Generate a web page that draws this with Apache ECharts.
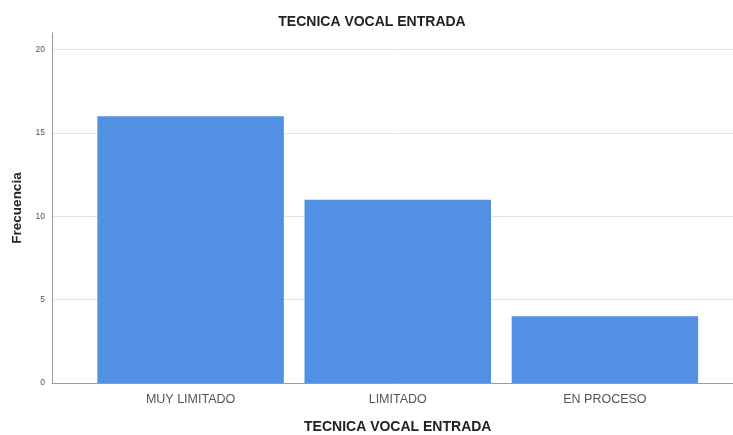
<!DOCTYPE html>
<html>
<head>
<meta charset="utf-8">
<script src="https://cdn.jsdelivr.net/npm/echarts@6/dist/echarts.min.js"></script>
<style>html,body{margin:0;padding:0;background:#fff}#c{width:733px;height:435px}</style>
</head>
<body>
<div id="c"></div>
<script>
var titleText = 'TECNICA VOCAL ENTRADA';
var categories = ['MUY LIMITADO', 'LIMITADO', 'EN PROCESO'];
var frecuencia = [16, 11, 4];
var yName = 'Frecuencia';
var xName = 'TECNICA VOCAL ENTRADA';

var chart = echarts.init(document.getElementById('c'), null, {renderer: 'canvas'});
var font = 'Liberation Sans, Arial, sans-serif';
chart.setOption({
  animation: false,
  backgroundColor: '#ffffff',
  title: {
    text: titleText, left: 367, top: 10, textAlign: 'center',
    textStyle: {fontFamily: font, fontSize: 14, fontWeight: 'bold', color: '#222'}
  },
  grid: [
    {left: 52, right: 0, top: 33, bottom: 52, containLabel: false, outerBoundsMode: 'none'},
    {left: 87, right: 24.5, top: 33, bottom: 52, containLabel: false, outerBoundsMode: 'none'}
  ],
  xAxis: [
    {gridIndex: 0, type: 'value', min: 0, max: 1,
     axisLine: {show: true, lineStyle: {color: '#9a9a9a', width: 1}},
     axisTick: {show: false}, axisLabel: {show: false}, splitLine: {show: false}},
    {gridIndex: 1, type: 'category', data: categories,
     axisLine: {show: false}, axisTick: {show: false},
     axisLabel: {fontFamily: font, fontSize: 12.5, color: '#555', margin: 10},
     name: xName, nameLocation: 'middle', nameGap: 37,
     nameTextStyle: {fontFamily: font, fontSize: 14, fontWeight: 'bold', color: '#222'}}
  ],
  yAxis: [
    {gridIndex: 0, type: 'value', min: 0, max: 21, interval: 5,
     axisLine: {show: true, lineStyle: {color: '#9a9a9a', width: 1}},
     axisTick: {show: false},
     axisLabel: {fontFamily: font, fontSize: 8.5, color: '#555', margin: 7, showMaxLabel: false},
     splitLine: {show: true, lineStyle: {color: ['#e4e4e4', '#e4e4e4', '#e4e4e4', '#e4e4e4', '#e4e4e4', 'rgba(0,0,0,0)'], width: 1}},
     name: yName, nameLocation: 'middle', nameGap: 27, nameRotate: 90,
     nameTextStyle: {fontFamily: font, fontSize: 13.5, fontWeight: 'bold', color: '#222'}},
    {gridIndex: 1, type: 'value', min: 0, max: 21, show: false, splitLine: {show: false}}
  ],
  series: [{
    type: 'bar', xAxisIndex: 1, yAxisIndex: 1,
    data: frecuencia, barWidth: '90%',
    itemStyle: {color: '#5190e2'}
  }]
});
</script>
</body>
</html>
